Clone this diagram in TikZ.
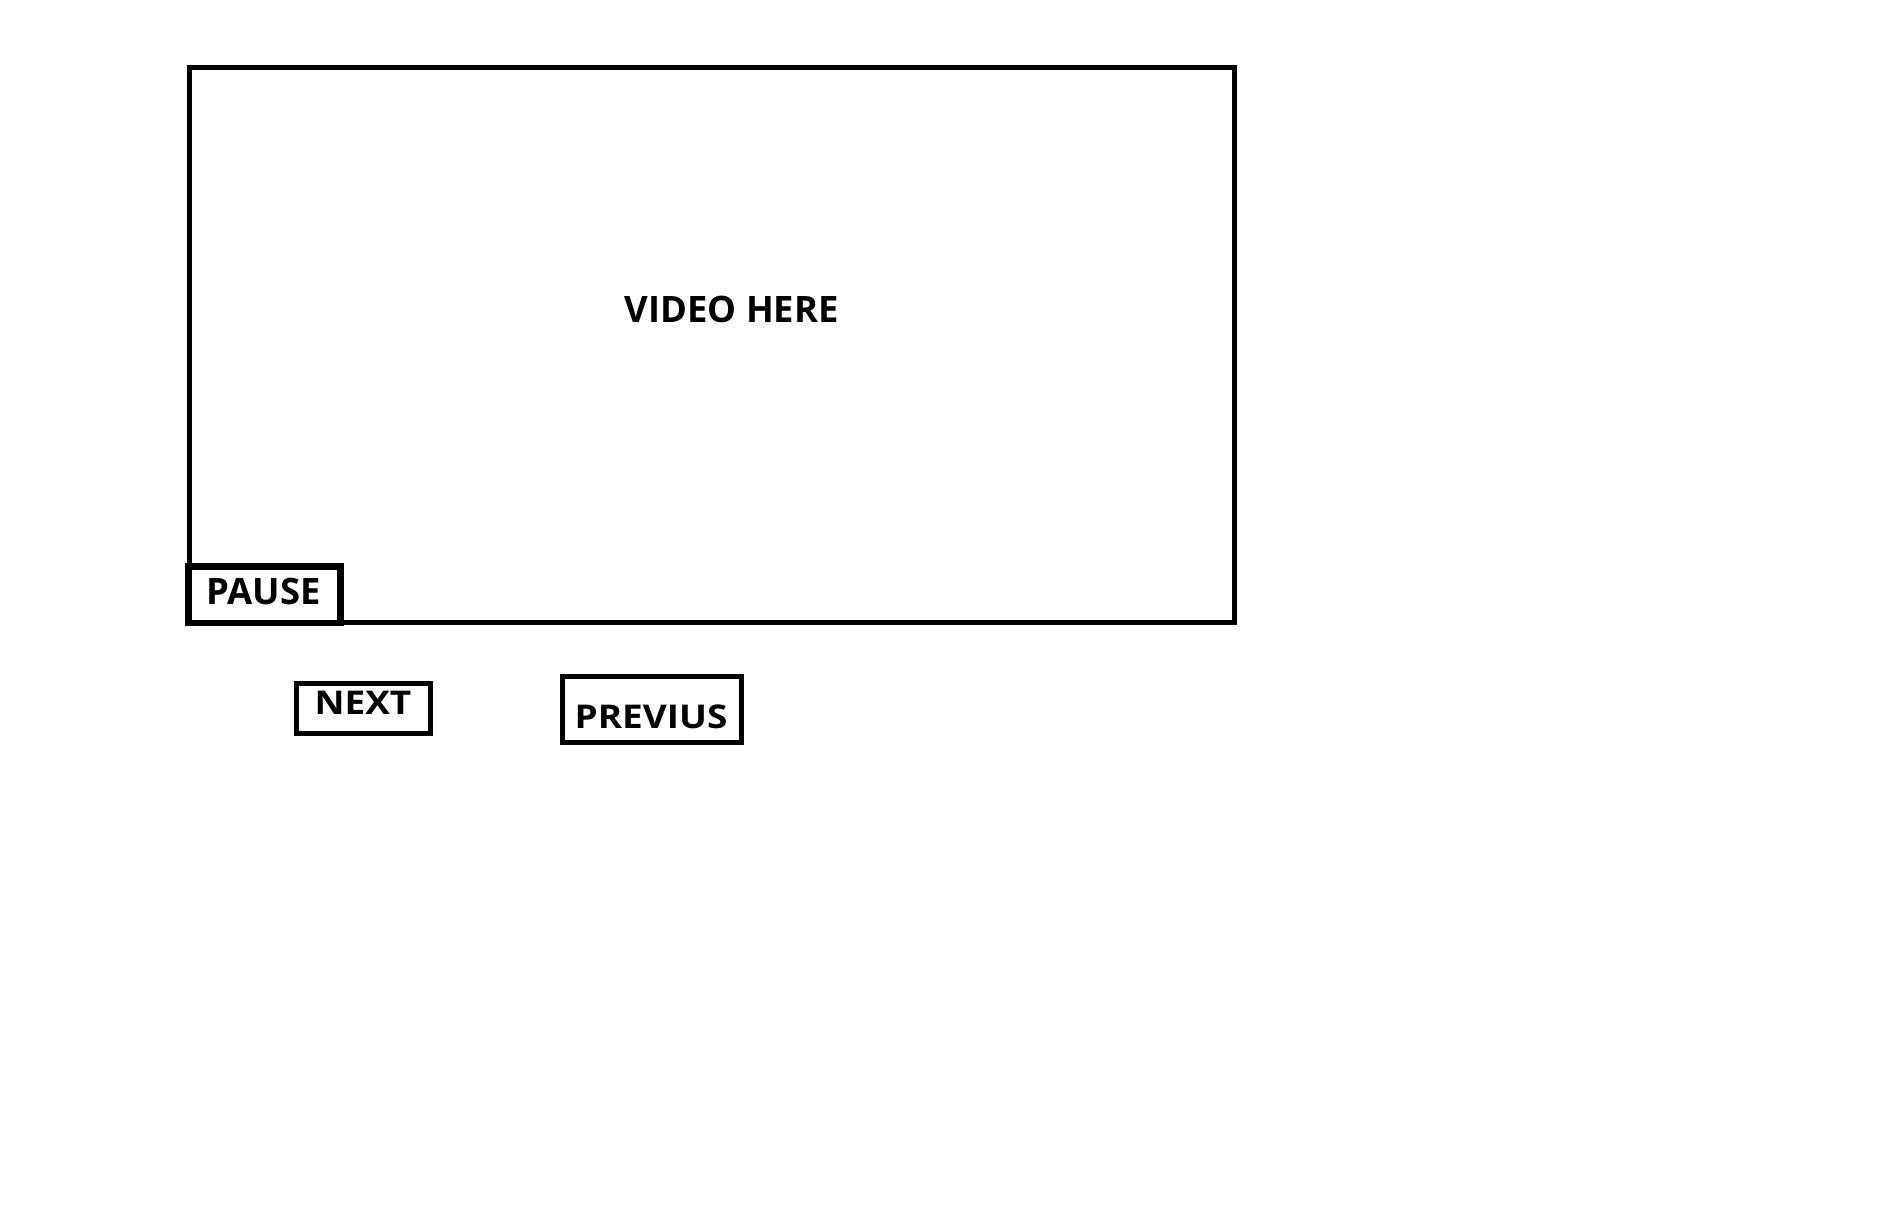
\documentclass[tikz,border=0pt]{standalone}
\usepackage{fontspec}
\setmainfont{Open Sans}
\tikzset{
  big/.style={font=\fontsize{36.4}{40}\selectfont\bfseries,inner sep=0pt},
  small/.style={font=\fontsize{32.7}{36}\selectfont\bfseries,inner sep=0pt,xscale=1.13,transform shape}
}
\begin{document}
\begin{tikzpicture}[x=1pt,y=-1pt]
		\useasboundingbox (0,0) rectangle (1883,1225);
		\begin{scope}[every node/.style={draw,line width=5pt,inner sep=0pt}]
		\node (screen) at (711.5,345) [minimum width=1045pt,minimum height=555pt]{};
		\node (next) at (363,708.3) [minimum width=134pt,minimum height=49.5pt]{};
		\node (prev) at (651.75,709.6) [minimum width=178.5pt,minimum height=65.7pt]{};
		\node (pause) at (264.5,594.75) [line width=6.5pt,fill=white,minimum width=152pt,minimum height=56.5pt]{};
		\end{scope}
		\node[big] (videotxt) at (731.7,309.7) {VIDEO HERE};
		\node[big] (pausetxt) at (263.8,591) {PAUSE};
		\node[small] (nexttxt) at (363,703.3) {NEXT};
		\node[small] (prevtxt) at (651,716.7) {PREVIUS};
		\end{tikzpicture}
\end{document}
